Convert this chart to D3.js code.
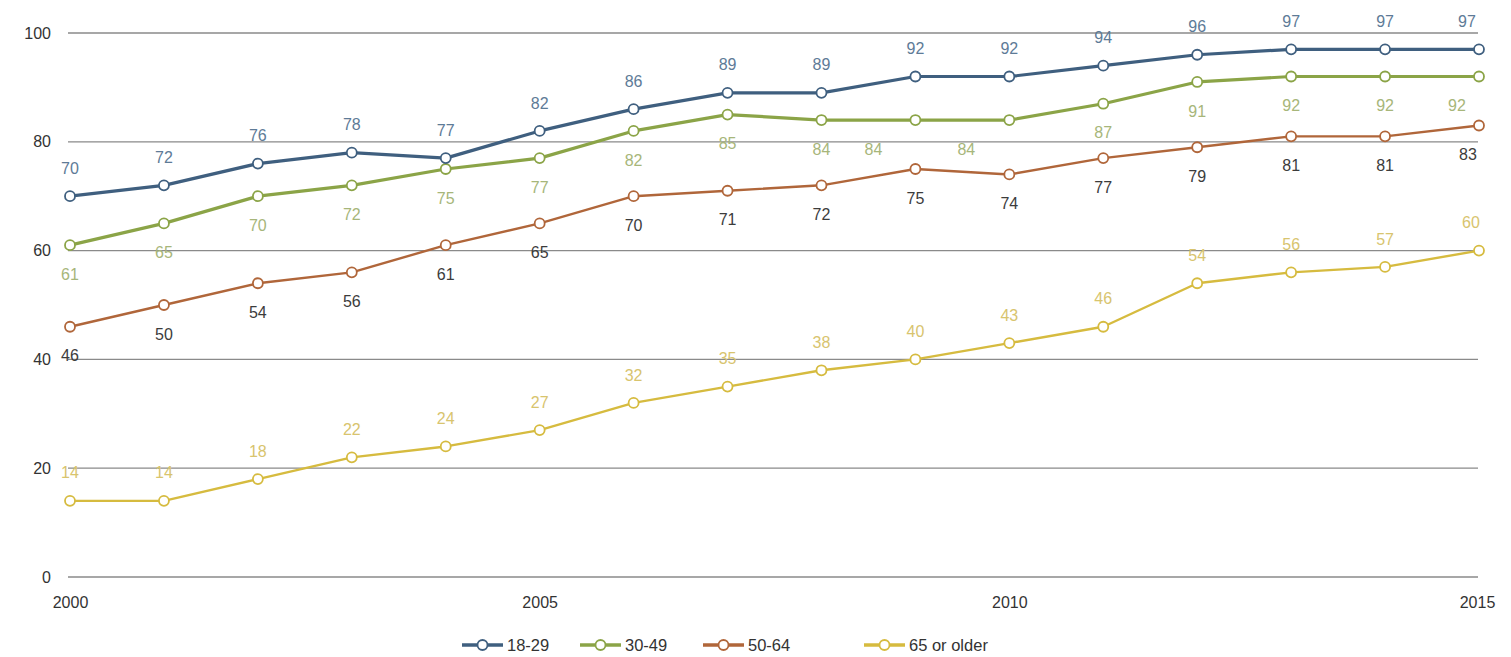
<!DOCTYPE html>
<html>
<head>
<meta charset="utf-8">
<script src="https://cdn.jsdelivr.net/npm/d3@7"></script>
<style>
  html, body { margin: 0; padding: 0; background: #fff; }
  svg { display: block; font-family: "Liberation Sans", Arial, sans-serif; }
</style>
</head>
<body>
<svg id="chart" width="1511" height="657"></svg>
<script>
// Share of adults, by age group, 2000–2015
const years = [2000, 2001, 2002, 2003, 2004, 2005, 2006, 2007, 2008, 2009, 2010, 2011, 2012, 2013, 2014, 2015];
const age18to29 = [70, 72, 76, 78, 77, 82, 86, 89, 89, 92, 92, 94, 96, 97, 97, 97];
const age30to49 = [61, 65, 70, 72, 75, 77, 82, 85, 84, 84, 84, 87, 91, 92, 92, 92];
const age50to64 = [46, 50, 54, 56, 61, 65, 70, 71, 72, 75, 74, 77, 79, 81, 81, 83];
const age65plus = [14, 14, 18, 22, 24, 27, 32, 35, 38, 40, 43, 46, 54, 56, 57, 60];
const seriesNames = ["18-29", "30-49", "50-64", "65 or older"];
const yTicks = [0, 20, 40, 60, 80, 100];
const xTicks = [2000, 2005, 2010, 2015];

const series = [
  { name: seriesNames[0], values: age18to29, line: "#3f5f7f", label: "#5e7b97", width: 3.2, above: true },
  { name: seriesNames[1], values: age30to49, line: "#8ba447", label: "#a7b67a", width: 3.2, above: false },
  { name: seriesNames[2], values: age50to64, line: "#b0663a", label: "#3c3c3c", width: 2.4, above: false },
  { name: seriesNames[3], values: age65plus, line: "#d6bb3f", label: "#d8c46e", width: 2.4, above: true }
];

// small horizontal nudges for crowded labels (series index -> year -> dx)
const labelNudge = {
  0: { 2015: -12 },
  1: { 2009: -42, 2010: -43, 2015: -22 },
  2: { 2015: -11 },
  3: { 2015: -8 }
};

const svg = d3.select("#chart");
const x = d3.scaleLinear().domain([2000, 2015]).range([70, 1479]);
const y = d3.scaleLinear().domain([0, 100]).range([577, 33]);

// gridlines
svg.append("g")
  .selectAll("line")
  .data(yTicks)
  .join("line")
  .attr("x1", 68).attr("x2", 1478)
  .attr("y1", d => y(d)).attr("y2", d => y(d))
  .attr("stroke", "#8a8a8a").attr("stroke-width", 1.3);

// y axis labels
svg.append("g")
  .selectAll("text")
  .data(yTicks)
  .join("text")
  .attr("x", 51).attr("y", d => y(d))
  .attr("dy", "0.35em")
  .attr("text-anchor", "end")
  .attr("font-size", 16)
  .attr("fill", "#333")
  .text(d => d);

// x axis labels
const xAxis = d3.axisBottom(x).tickValues(xTicks).tickFormat(d3.format("d")).tickSize(0).tickPadding(0);
const gx = svg.append("g").attr("transform", "translate(0,597)").call(xAxis);
gx.select(".domain").remove();
gx.selectAll("text")
  .attr("font-size", 16)
  .attr("fill", "#333")
  .attr("font-family", "Liberation Sans, Arial, sans-serif");
gx.selectAll(".tick").filter(d => d === 2015).select("text").attr("dx", -2);

const lineGen = d3.line().x((d, i) => x(years[i])).y(d => y(d));

// draw bottom series first so the top lines sit on top
[...series].reverse().forEach((s) => {
  const si = series.indexOf(s);
  const g = svg.append("g");
  g.append("path")
    .datum(s.values)
    .attr("d", lineGen)
    .attr("fill", "none")
    .attr("stroke", s.line)
    .attr("stroke-width", s.width)
    .attr("stroke-linejoin", "round");
  g.selectAll("circle")
    .data(s.values)
    .join("circle")
    .attr("cx", (d, i) => x(years[i]))
    .attr("cy", d => y(d))
    .attr("r", 5)
    .attr("fill", "#fff")
    .attr("stroke", s.line)
    .attr("stroke-width", 1.8);
  g.selectAll("text")
    .data(s.values)
    .join("text")
    .attr("x", (d, i) => x(years[i]) + ((labelNudge[si] || {})[years[i]] || 0))
    .attr("y", d => y(d) + (s.above ? -28 : 29))
    .attr("dy", "0.35em")
    .attr("text-anchor", "middle")
    .attr("font-size", 16)
    .attr("fill", s.label)
    .text(d => d);
});

// legend
const legendX = [462, 580, 703, 864];
const legend = svg.append("g").attr("transform", "translate(0,645)");
series.forEach((s, i) => {
  const g = legend.append("g").attr("transform", `translate(${legendX[i]},0)`);
  g.append("line").attr("x1", 0).attr("x2", 41).attr("y1", 0).attr("y2", 0)
    .attr("stroke", s.line).attr("stroke-width", 3.5);
  g.append("circle").attr("cx", 20.5).attr("cy", 0).attr("r", 5)
    .attr("fill", "#fff").attr("stroke", s.line).attr("stroke-width", 1.8);
  g.append("text").attr("x", 45).attr("y", 0).attr("dy", "0.35em")
    .attr("font-size", 16.5).attr("fill", "#333").text(s.name);
});
</script>
</body>
</html>
